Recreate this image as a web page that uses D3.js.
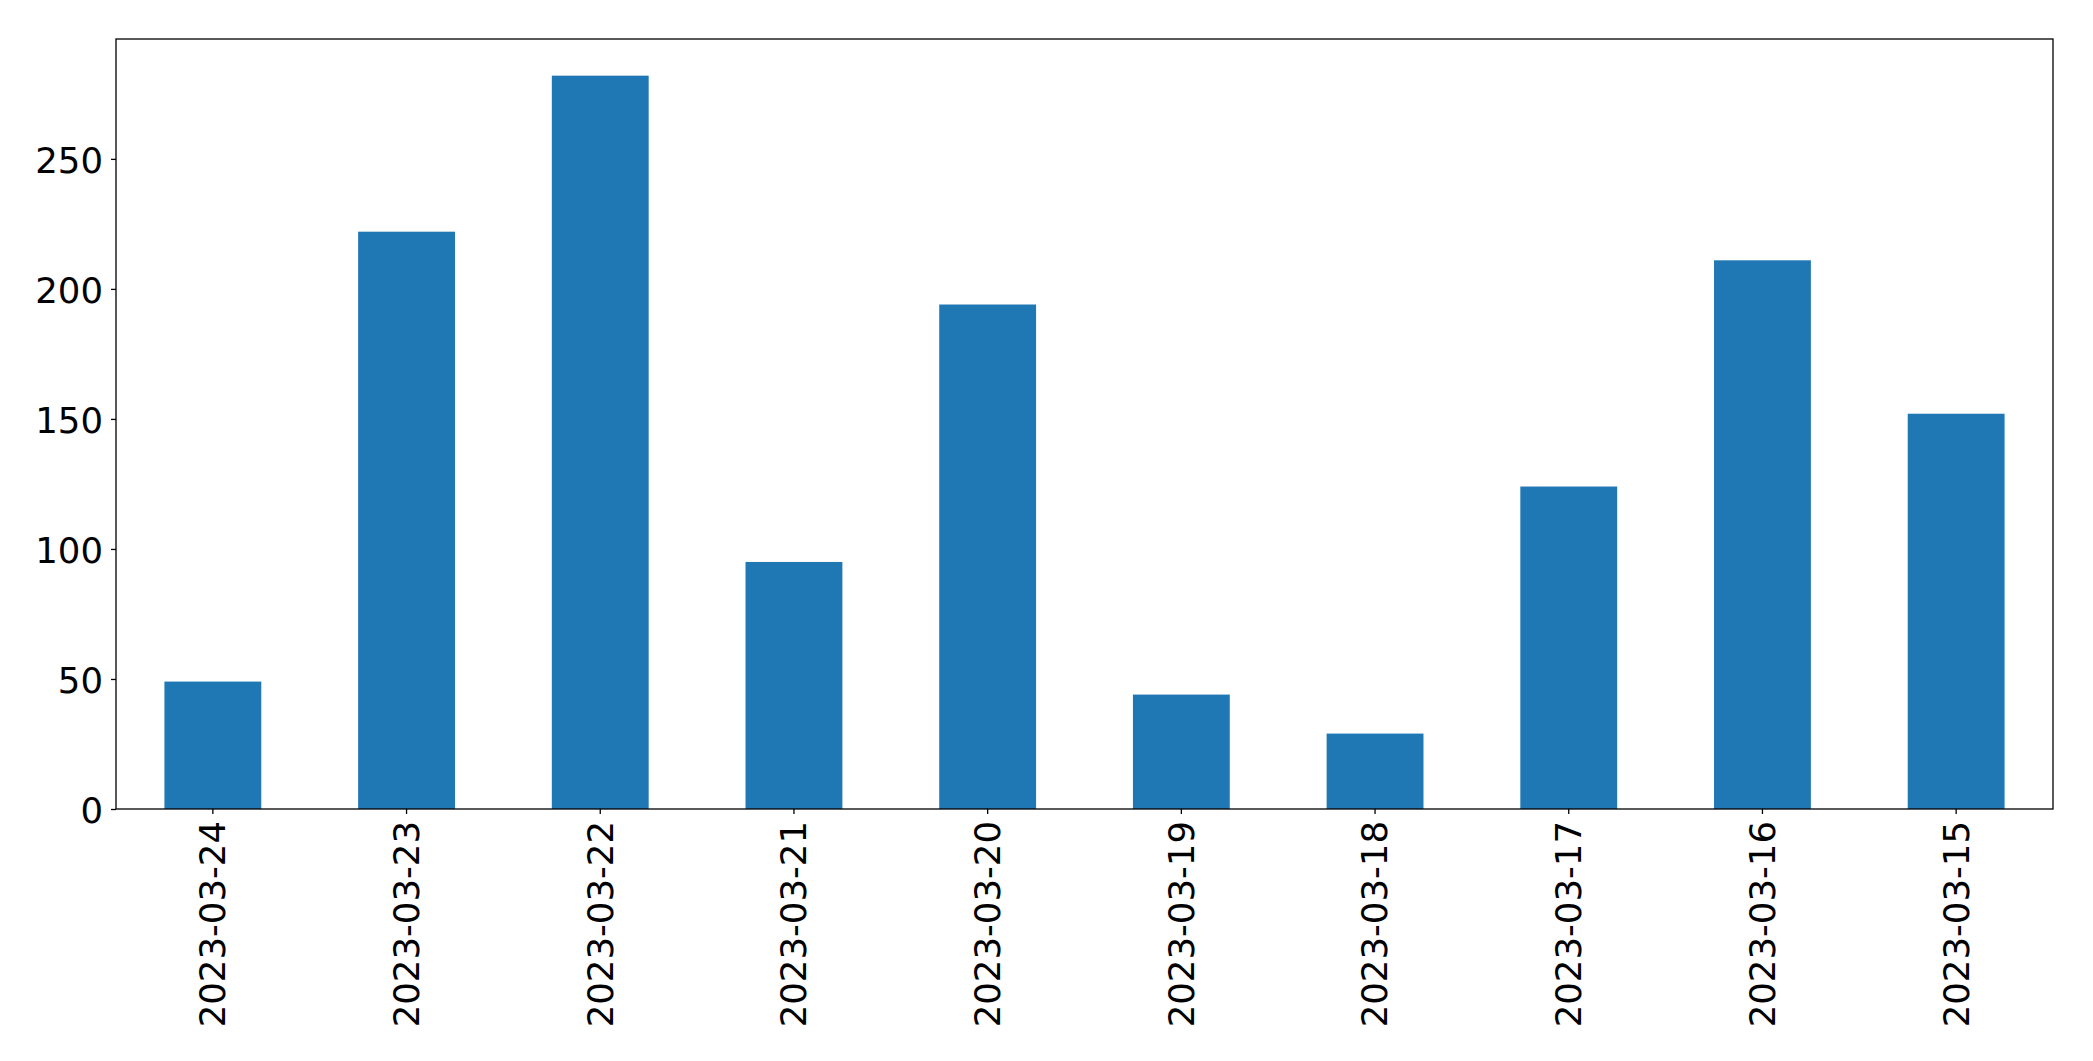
<!DOCTYPE html>
<html>
<head>
<meta charset="utf-8">
<script src="https://cdn.jsdelivr.net/npm/d3@7"></script>
<style>
  html, body { margin: 0; padding: 0; background: #fff; }
  svg { display: block; }
  text { font-family: "DejaVu Sans", sans-serif; }
</style>
</head>
<body>
<script>
const categories = ["2023-03-24","2023-03-23","2023-03-22","2023-03-21","2023-03-20","2023-03-19","2023-03-18","2023-03-17","2023-03-16","2023-03-15"];
const values = [49, 222, 282, 95, 194, 44, 29, 124, 211, 152];
const yTicks = [0, 50, 100, 150, 200, 250];

const W = 2093, H = 1061;
const margin = { left: 116, right: W - 2053, top: 39, bottom: H - 809 };
const iw = W - margin.left - margin.right;
const ih = H - margin.top - margin.bottom;

const svg = d3.select("body").append("svg").attr("width", W).attr("height", H);
const g = svg.append("g").attr("transform", `translate(${margin.left},${margin.top})`);

const x = d3.scaleBand().domain(categories).range([0, iw]).paddingInner(0.5).paddingOuter(0.25);
const y = d3.scaleLinear().domain([0, d3.max(values) * 1.05]).range([ih, 0]);

g.selectAll("rect.bar").data(values).join("rect")
  .attr("class", "bar")
  .attr("x", (d, i) => x(categories[i]))
  .attr("y", d => y(d))
  .attr("width", x.bandwidth())
  .attr("height", d => ih - y(d))
  .attr("fill", "#1f77b4");

const fs = 35.5;
const yAxis = g.append("g").call(d3.axisLeft(y).tickValues(yTicks).tickSize(5).tickPadding(8).tickFormat(d3.format("d")));
yAxis.select(".domain").remove();
yAxis.selectAll("text").attr("font-size", fs).attr("fill", "#000").attr("font-family", "DejaVu Sans").attr("dy", "0.38em");
yAxis.selectAll("line").attr("stroke", "#000").attr("stroke-width", 1.3);

const xAxis = g.append("g").attr("transform", `translate(0,${ih})`)
  .call(d3.axisBottom(x).tickSize(5).tickPadding(0));
xAxis.select(".domain").remove();
xAxis.selectAll("line").attr("stroke", "#000").attr("stroke-width", 1.3);
xAxis.selectAll("text")
  .attr("font-size", fs).attr("fill", "#000").attr("font-family", "DejaVu Sans")
  .attr("transform", "rotate(-90)")
  .attr("text-anchor", "end")
  .attr("dy", "0.35em")
  .attr("x", -12)
  .attr("y", 0);

g.append("rect").attr("x", 0).attr("y", 0).attr("width", iw).attr("height", ih)
  .attr("fill", "none").attr("stroke", "#000").attr("stroke-width", 1.3);
</script>
</body>
</html>
